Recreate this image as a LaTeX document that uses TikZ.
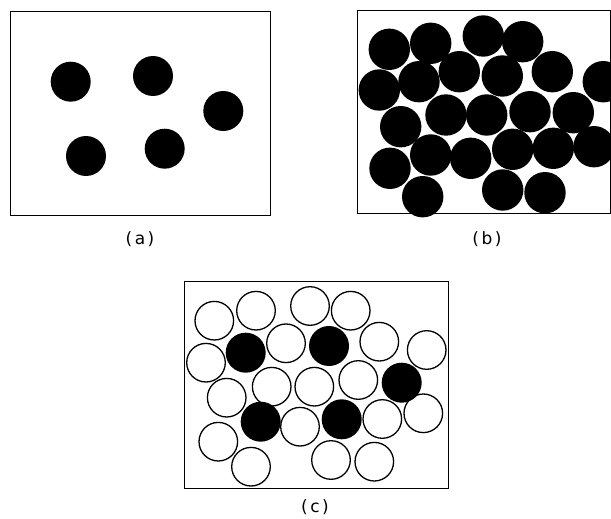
\documentclass[tikz,border=0pt]{standalone}
\usepackage{fontspec}
\newfontfamily\capfont{DejaVu Sans}
\newcommand{\capt}[1]{(\hspace{2.5pt}#1\hspace{2.5pt})}
\begin{document}
\begin{tikzpicture}[x=1pt,y=-1pt,
  frame/.style={draw=black,line width=0.8pt},
  solid ball/.style={fill=black},
  open ball/.style={draw=black,line width=1.3pt,fill=white},
  caption/.style={font=\capfont\fontsize{17}{19}\selectfont,inner sep=0pt}]
\useasboundingbox (0,0) rectangle (611,519);
\clip (0,0) rectangle (611,519);
% (a)
\draw[frame] (10,11) rectangle (270,215);
\foreach \x/\y in {70.7/81.7,153/76,223.3/111,86/156,164.7/148.7}
  \fill[solid ball] (\x,\y) circle (20);
\node[caption] (la) at (140,239) {\capt{a}};
% (b)
\draw[frame] (357.3,10) rectangle (610.5,213);
\foreach \x/\y in {389.3/49.3,430.7/43.3,483.3/36,522.7/41.7,
  379.3/90,419/81.7,459.3/71.7,502.3/76,552.3/71.7,603.3/81.7,
  400.7/126.7,446/115,486.7/115,530/111.7,573.3/112.7,
  390/168.3,430.7/155,470.7/158.3,512.7/149.3,553.3/148.3,594/146.7,
  422.7/196.7,502.7/190,545/192.7}
  \fill[solid ball] (\x,\y) circle (20.7);
\node[caption] (lb) at (487,239) {\capt{b}};
% (c)
\draw[frame] (184,281.7) rectangle (448.3,488.3);
\foreach \x/\y in {214.3/320.7,256/310.7,310/306,350.7/310.7,
  206/362.7,286/343.3,379.3/341.7,426.7/350,
  226.7/397.7,271.7/386.7,314.3/386.7,358.3/380,
  218.3/441.7,300/426.7,382.3/419,423.3/413.3,
  251/466.7,331/460,374.3/461.7}
  \draw[open ball] (\x,\y) circle (19.3);
\foreach \x/\y in {245.7/352.7,329/346,401.7/382.7,260.7/421.7,341.7/419.3}
  \fill[solid ball] (\x,\y) circle (20);
\node[caption] (lc) at (315,507) {\capt{c}};
\end{tikzpicture}
\end{document}
